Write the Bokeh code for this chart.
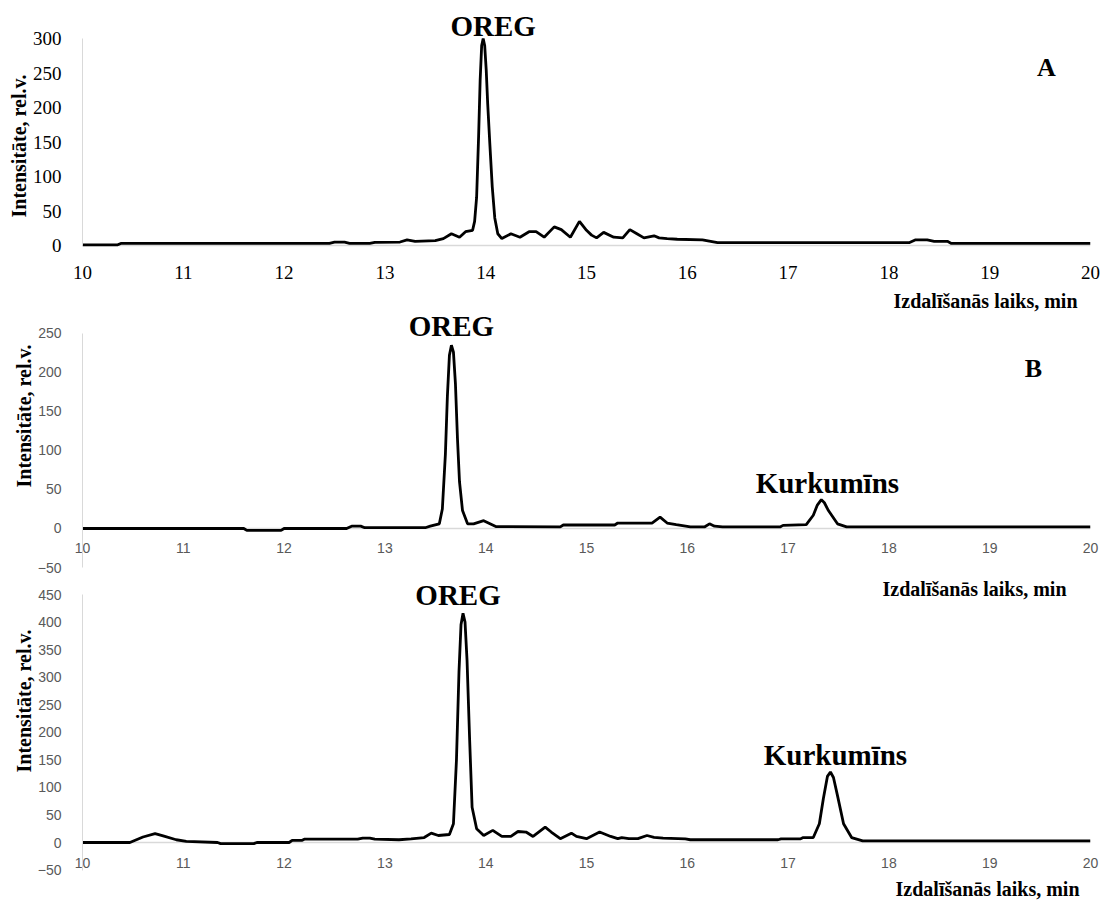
from bokeh.plotting import figure
from bokeh.models import Label, Span, FixedTicker, Range1d, Title
from bokeh.layouts import column
from bokeh.embed import file_html
from bokeh.resources import INLINE

# ---------------- data ----------------
x_ticks = [10, 11, 12, 13, 14, 15, 16, 17, 18, 19, 20]
a_y_ticks = [0, 50, 100, 150, 200, 250, 300]
b_y_ticks = [-50, 0, 50, 100, 150, 200, 250]
c_y_ticks = [-50, 0, 50, 100, 150, 200, 250, 300, 350, 400, 450]

# Panel A chromatogram (retention time, min / intensity)
a_time = [10.0, 10.35, 10.38, 12.45, 12.5, 12.6, 12.65, 12.85, 12.9, 13.15,
          13.22, 13.3, 13.5, 13.58, 13.66, 13.74, 13.8, 13.87, 13.89, 13.91,
          13.93, 13.945, 13.96, 13.975, 13.99, 14.005, 14.02, 14.04, 14.065, 14.09,
          14.12, 14.16, 14.25, 14.34, 14.43, 14.5, 14.58, 14.68, 14.75, 14.84,
          14.93, 15.0, 15.05, 15.1, 15.17, 15.27, 15.36, 15.43, 15.5, 15.57,
          15.67, 15.72, 15.8, 15.9, 16.15, 16.3, 18.2, 18.26, 18.38, 18.45,
          18.58, 18.62, 20.0]
a_int = [1, 1, 3, 3, 5, 5, 3, 3, 4.5, 5,
         8, 6, 7, 10, 17, 12, 20, 22, 35, 70,
         160, 240, 290, 300, 290, 255, 205, 150, 85, 40,
         17, 10, 17, 12, 20, 20, 12, 27, 23, 12,
         35, 22, 15, 11, 19, 12, 11, 23, 17, 11,
         14, 11, 10, 9, 8, 4, 4, 8, 8, 6,
         6, 3, 3]

# Panel B chromatogram
b_time = [10.0, 11.6, 11.63, 11.97, 12.0, 12.62, 12.67, 12.76, 12.8, 13.4,
          13.45, 13.54, 13.57, 13.6, 13.62, 13.64, 13.66, 13.68, 13.7, 13.72,
          13.74, 13.77, 13.82, 13.88, 13.98, 14.1, 14.74, 14.77, 15.28, 15.31,
          15.65, 15.73, 15.8, 15.89, 16.03, 16.17, 16.22, 16.27, 16.35, 16.92,
          16.95, 17.18, 17.25, 17.29, 17.33, 17.36, 17.4, 17.49, 17.58, 20.0]
b_int = [0, 0, -2.5, -2.5, 0, 0, 3, 3, 1, 1,
         3, 6, 25, 95, 170, 222, 235, 226, 185, 115,
         60, 23, 6, 6, 10, 2.5, 2, 4.5, 4.5, 7,
         7, 14.5, 7, 5, 2, 2, 6, 3, 2, 2,
         4, 5, 17, 30, 37, 33, 23, 6, 2, 2]

# Panel C chromatogram
c_time = [10.0, 10.47, 10.6, 10.72, 10.8, 10.93, 11.03, 11.34, 11.37, 11.7,
          11.73, 12.05, 12.08, 12.18, 12.2, 12.73, 12.78, 12.85, 12.9, 13.14,
          13.26, 13.39, 13.46, 13.53, 13.64, 13.68, 13.71, 13.735, 13.755, 13.775,
          13.795, 13.815, 13.84, 13.865, 13.91, 13.98, 14.07, 14.16, 14.25, 14.32,
          14.4, 14.47, 14.59, 14.65, 14.74, 14.85, 14.9, 15.0, 15.13, 15.24,
          15.31, 15.35, 15.42, 15.51, 15.6, 15.67, 15.76, 15.98, 16.03, 16.9,
          16.93, 17.12, 17.15, 17.25, 17.31, 17.35, 17.39, 17.42, 17.45, 17.49,
          17.55, 17.63, 17.74, 20.0]
c_int = [0, 0, 10, 16, 12, 5, 2, 0, -2, -2,
         0, 0, 4, 4, 6, 6, 8, 8, 6, 5,
         6.5, 9, 17, 12.7, 14.5, 34, 150, 310, 395, 416,
         400, 330, 190, 64, 25, 12.7, 22, 11, 11, 20,
         19, 11, 28, 19, 7, 17, 11, 7, 19, 11,
         7, 9, 7, 7, 12.7, 9.5, 8, 6.5, 5, 5,
         6.5, 6.5, 9, 9, 34, 80, 120, 128, 118, 85,
         34, 9, 3, 3]

assert len(a_time) == len(a_int)
assert len(b_time) == len(b_int)
assert len(c_time) == len(c_int)

y_title = "Intensitāte, rel.v."
x_title = "Izdalīšanās laiks, min"
peak1 = "OREG"
peak2 = "Kurkumīns"

SERIF = "Liberation Serif"
SANS = "Liberation Sans"
GRID_GRAY = "#d9d9d9"
TICK_GRAY = "#595959"
LINE_W = 2.8


def base_fig(height, y_rng, y_bounds, top, bottom, right):
    p = figure(width=1115, height=height, x_range=Range1d(10, 20),
               y_range=Range1d(*y_rng), output_backend="svg",
               toolbar_location=None, min_border_left=82,
               min_border_right=right, min_border_top=top,
               min_border_bottom=bottom)
    p.outline_line_color = None
    p.grid.visible = False
    p.background_fill_color = "white"
    p.border_fill_color = "white"
    for ax in (p.xaxis[0], p.yaxis[0]):
        ax.major_tick_line_color = None
        ax.minor_tick_line_color = None
        ax.axis_line_color = GRID_GRAY
    p.xaxis.axis_line_color = None
    p.xaxis.ticker = FixedTicker(ticks=x_ticks)
    p.yaxis.bounds = y_bounds
    # horizontal axis line crossing at y = 0
    p.add_layout(Span(location=0, dimension="width", line_color=GRID_GRAY,
                      line_width=1.5, level="underlay"))
    return p


def lbl(p, text, x, y, size, xo=0, yo=0, align="center"):
    p.add_layout(Label(x=x, y=y, x_offset=xo, y_offset=yo, text=text,
                       text_font=SERIF, text_font_style="bold",
                       text_font_size=size, text_color="black",
                       text_align=align, text_baseline="alphabetic"))


def y_axis_title(p, offset):
    p.add_layout(Title(text=y_title, align="left", offset=offset, standoff=0,
                       text_font=SERIF, text_font_style="bold",
                       text_font_size="20px", text_color="black"), "left")


# ---------------- Panel A ----------------
pa = base_fig(290, (-65.3, 335), (0, 300), 14, 0, 25)
pa.yaxis.ticker = FixedTicker(ticks=a_y_ticks)
for ax in (pa.xaxis[0], pa.yaxis[0]):
    ax.major_label_text_font = SERIF
    ax.major_label_text_font_size = "19px"
    ax.major_label_text_color = "black"
pa.xaxis.major_label_standoff = -31
pa.yaxis.major_label_standoff = 15
pa.line(a_time, a_int, line_color="black", line_width=LINE_W)
ia = a_int.index(max(a_int))
lbl(pa, peak1, a_time[ia], a_int[ia], "29px", xo=10, yo=13)
lbl(pa, "A", 20, 300, "26px", xo=-44, yo=-29)
y_axis_title(pa, 73)

# ---------------- Panel B ----------------
pb = base_fig(287, (-50, 305.1), (-50, 250), 0, 10, 12)
pb.yaxis.ticker = FixedTicker(ticks=b_y_ticks)
for ax in (pb.xaxis[0], pb.yaxis[0]):
    ax.major_label_text_font = SANS
    ax.major_label_text_font_size = "14px"
    ax.major_label_text_color = TICK_GRAY
pb.xaxis.major_label_standoff = -31
pb.yaxis.major_label_standoff = 15
pb.line(b_time, b_int, line_color="black", line_width=LINE_W)
ib = b_int.index(max(b_int))
lbl(pb, peak1, b_time[ib], b_int[ib], "29px", xo=0, yo=19)
kb = b_time.index(17.33)
lbl(pb, peak2, b_time[kb], b_int[kb], "29px", xo=6, yo=17)
lbl(pb, "B", 20, 250, "26px", xo=-57, yo=-35)
# x-axis title of panel A (sits just above panel B's y axis)
lbl(pb, x_title, 20, 250, "20px", xo=-13, yo=32, align="right")
y_axis_title(pb, 80)

# ---------------- Panel C ----------------
pc = base_fig(327, (-112.5, 480.9), (-50, 450), 0, 0, 12)
pc.yaxis.ticker = FixedTicker(ticks=c_y_ticks)
for ax in (pc.xaxis[0], pc.yaxis[0]):
    ax.major_label_text_font = SANS
    ax.major_label_text_font_size = "14px"
    ax.major_label_text_color = TICK_GRAY
pc.xaxis.major_label_standoff = -53
pc.yaxis.major_label_standoff = 15
pc.line(c_time, c_int, line_color="black", line_width=LINE_W)
ic = c_int.index(max(c_int))
lbl(pc, peak1, c_time[ic], c_int[ic], "29px", xo=-5, yo=18)
kc = c_time.index(17.42)
lbl(pc, peak2, c_time[kc], c_int[kc], "29px", xo=5, yo=17)
# x-axis title of panel B (sits just above panel C's y axis)
lbl(pc, x_title, 20, 450, "20px", xo=-24, yo=6, align="right")
# x-axis title of panel C
lbl(pc, x_title, 20, -50, "20px", xo=-11, yo=-19, align="right")
y_axis_title(pc, 132)

layout = column(pa, pb, pc, spacing=0)
open("out.html", "w").write(file_html(layout, INLINE))
